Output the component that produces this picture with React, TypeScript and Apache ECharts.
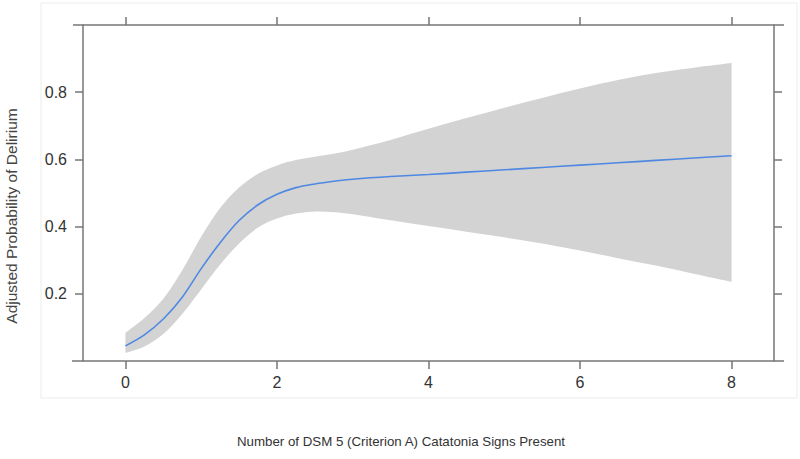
import React, { useEffect, useRef } from "react";
import * as echarts from "echarts";

const xValues = [0, 0.25, 0.5, 0.75, 1, 1.25, 1.5, 1.75, 2, 2.25, 2.5, 2.75, 3, 3.5, 4, 4.5, 5, 5.5, 6, 6.5, 7, 7.5, 8];
const fitValues = [0.045, 0.078, 0.125, 0.19, 0.275, 0.352, 0.418, 0.465, 0.496, 0.516, 0.527, 0.535, 0.541, 0.549, 0.555, 0.562, 0.569, 0.576, 0.583, 0.59, 0.597, 0.604, 0.611];
const upperValues = [0.084, 0.128, 0.185, 0.27, 0.37, 0.455, 0.516, 0.557, 0.582, 0.598, 0.608, 0.617, 0.629, 0.658, 0.691, 0.723, 0.754, 0.783, 0.811, 0.836, 0.857, 0.873, 0.887];
const lowerValues = [0.024, 0.043, 0.08, 0.14, 0.213, 0.287, 0.35, 0.397, 0.424, 0.439, 0.445, 0.443, 0.437, 0.419, 0.402, 0.385, 0.368, 0.35, 0.329, 0.306, 0.284, 0.26, 0.236];
const xTicks = [0, 2, 4, 6, 8];
const yTicks = [0.2, 0.4, 0.6, 0.8];

const xTitle = "Number of DSM 5 (Criterion A) Catatonia Signs Present";
const yTitle = "Adjusted Probability of Delirium";

// Catmull-Rom to cubic bezier path segments through pixel points
function splineSegments(pts: number[][]): string {
  let d = "";
  for (let i = 0; i < pts.length - 1; i++) {
    const p0 = pts[i - 1] || pts[i];
    const p1 = pts[i];
    const p2 = pts[i + 1];
    const p3 = pts[i + 2] || p2;
    const t = 1 / 6;
    const c1x = p1[0] + (p2[0] - p0[0]) * t;
    const c1y = p1[1] + (p2[1] - p0[1]) * t;
    const c2x = p2[0] - (p3[0] - p1[0]) * t;
    const c2y = p2[1] - (p3[1] - p1[1]) * t;
    d += ` C ${c1x} ${c1y} ${c2x} ${c2y} ${p2[0]} ${p2[1]}`;
  }
  return d;
}

export default function App() {
  const ref = useRef<HTMLDivElement>(null);
  useEffect(() => {
    if (!ref.current) return;
    const chart = echarts.init(ref.current, null, { renderer: "svg" });
    const axisLineColor = "#767676";
    const labelFont = { color: "#333", fontSize: 16, fontFamily: "Liberation Sans, Arial, sans-serif" };
    const tickStyle = { color: axisLineColor, width: 1.5 };
    const baseX = {
      type: "value" as const,
      min: -0.56,
      max: 8.56,
      splitLine: { show: false },
      axisLine: { show: false, onZero: false },
    };
    const baseY = {
      type: "value" as const,
      min: 0,
      max: 1.0,
      splitLine: { show: false },
      axisLine: { show: true, onZero: false, lineStyle: { color: axisLineColor, width: 1.5 } },
    };
    chart.setOption({
      animation: false,
      backgroundColor: "#fff",
      grid: { left: 83, right: 26, top: 25, bottom: 98, containLabel: false },
      xAxis: [
        {
          ...baseX,
          position: "bottom",
          axisTick: { show: true, customValues: xTicks, length: 8, lineStyle: tickStyle },
          axisLabel: { show: true, customValues: xTicks, margin: 13, ...labelFont },
        },
        {
          ...baseX,
          position: "top",
          axisTick: { show: true, customValues: xTicks, length: 8, lineStyle: tickStyle },
          axisLabel: { show: false },
        },
      ],
      yAxis: [
        {
          ...baseY,
          position: "left",
          axisTick: { show: true, customValues: yTicks, length: 8, lineStyle: tickStyle },
          axisLabel: {
            show: true,
            customValues: yTicks,
            margin: 16,
            formatter: (v: number) => v.toFixed(1),
            ...labelFont,
          },
        },
        {
          ...baseY,
          position: "right",
          axisTick: { show: true, customValues: yTicks, length: 8, lineStyle: tickStyle },
          axisLabel: { show: false },
        },
      ],
      series: [
        {
          type: "custom",
          name: "band",
          silent: true,
          data: [[0, 0]],
          renderItem: (_params: any, api: any) => {
            const up = xValues.map((x, i) => api.coord([x, upperValues[i]]));
            const lo = xValues.map((x, i) => api.coord([x, lowerValues[i]])).reverse();
            let d = `M ${up[0][0]} ${up[0][1]}` + splineSegments(up);
            d += ` L ${lo[0][0]} ${lo[0][1]}` + splineSegments(lo) + " Z";
            return {
              type: "path",
              shape: { pathData: d },
              style: { fill: "#d3d3d3", stroke: "none" },
            };
          },
          z: 1,
        },
        {
          type: "line",
          name: "fit",
          data: xValues.map((x, i) => [x, fitValues[i]]),
          lineStyle: { color: "#4f88e3", width: 1.6 },
          symbol: "none",
          smooth: 0.3,
          silent: true,
          z: 3,
        },
      ],
      graphic: [
        {
          type: "rect",
          shape: { x: 41, y: 3, width: 756, height: 395 },
          style: { fill: "none", stroke: "#ececec", lineWidth: 1 },
          silent: true,
          z: -10,
        },
        {
          type: "line",
          shape: { x1: 73, y1: 25, x2: 784, y2: 25 },
          style: { stroke: axisLineColor, lineWidth: 1.5 },
          silent: true,
        },
        {
          type: "line",
          shape: { x1: 72, y1: 361, x2: 784, y2: 361 },
          style: { stroke: axisLineColor, lineWidth: 1.5 },
          silent: true,
        },
        {
          type: "text",
          x: 11,
          y: 216,
          rotation: Math.PI / 2,
          style: {
            text: yTitle,
            align: "center",
            verticalAlign: "middle",
            fill: "#444",
            fontSize: 15.5,
            fontFamily: "Liberation Sans, Arial, sans-serif",
          },
        },
        {
          type: "text",
          x: 401,
          y: 441,
          style: {
            text: xTitle,
            align: "center",
            verticalAlign: "middle",
            fill: "#333",
            fontSize: 13.3,
            fontFamily: "Liberation Sans, Arial, sans-serif",
          },
        },
      ],
    });
    return () => chart.dispose();
  }, []);
  return (
    <div
      ref={ref}
      style={{ position: "absolute", left: 0, top: 0, width: 800, height: 459 }}
    />
  );
}
